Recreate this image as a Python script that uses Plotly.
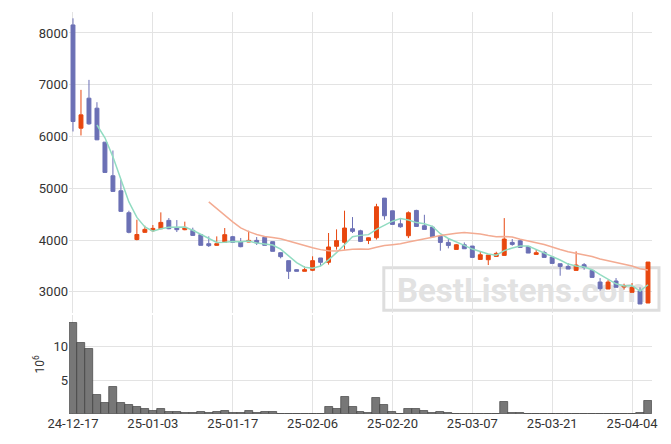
import pandas as pd
import plotly.graph_objects as go
from plotly.subplots import make_subplots

dates = ["24-12-17", "24-12-18", "24-12-19", "24-12-20", "24-12-23", "24-12-24", "24-12-26", "24-12-27",
         "24-12-30", "25-01-02", "25-01-03", "25-01-06", "25-01-07", "25-01-08", "25-01-09", "25-01-10",
         "25-01-13", "25-01-14", "25-01-15", "25-01-16", "25-01-17", "25-01-20", "25-01-21", "25-01-22",
         "25-01-23", "25-01-24", "25-01-31", "25-02-03", "25-02-04", "25-02-05", "25-02-06", "25-02-07",
         "25-02-10", "25-02-11", "25-02-12", "25-02-13", "25-02-14", "25-02-17", "25-02-18", "25-02-19",
         "25-02-20", "25-02-21", "25-02-24", "25-02-25", "25-02-26", "25-02-27", "25-02-28", "25-03-04",
         "25-03-05", "25-03-06", "25-03-07", "25-03-10", "25-03-11", "25-03-12", "25-03-13", "25-03-14",
         "25-03-17", "25-03-18", "25-03-19", "25-03-20", "25-03-21", "25-03-24", "25-03-25", "25-03-26",
         "25-03-27", "25-03-28", "25-03-31", "25-04-01", "25-04-02", "25-04-03", "25-04-04", "25-04-07",
         "25-04-08"]

open_ = [8155, 6161, 6740, 6547, 5891, 5242, 4952, 4528, 4010, 4149, 4181, 4219, 4380, 4232, 4200, 4187,
         4104, 3930, 3898, 3956, 4065, 3962, 3962, 3994, 4052, 3969, 3756, 3602, 3428, 3396, 3416, 3654,
         3570, 3879, 3956, 4219, 4179, 3993, 4044, 4810, 4565, 4314, 4083, 4572, 4276, 4250, 4070, 3954,
         3819, 3909, 3884, 3626, 3620, 3684, 3704, 3954, 3986, 3877, 3723, 3761, 3671, 3543, 3491, 3414,
         3524, 3414, 3189, 3054, 3209, 3093, 2990, 3022, 2784]
high = [8283, 6901, 7094, 6663, 5891, 5730, 5165, 4567, 4393, 4277, 4290, 4535, 4425, 4386, 4355, 4239,
        4104, 4071, 4071, 4232, 4080, 4040, 4180, 4058, 4052, 3969, 3763, 3602, 3435, 3493, 3686, 3654,
        4136, 4206, 4567, 4444, 4199, 4050, 4700, 4810, 4565, 4405, 4553, 4585, 4488, 4276, 4070, 4032,
        3925, 3954, 3884, 3774, 3710, 3774, 4424, 4019, 4006, 3877, 3813, 3794, 3671, 3543, 3556, 3781,
        3556, 3414, 3266, 3234, 3266, 3157, 3170, 3087, 3575]
low = [6097, 6020, 6226, 5930, 5306, 4930, 4545, 4130, 3995, 4140, 4155, 4210, 4210, 4155, 4190, 4080,
       3898, 3866, 3890, 3950, 3950, 3860, 3960, 3905, 3898, 3782, 3647, 3248, 3396, 3396, 3400, 3500,
       3525, 3815, 3815, 4136, 3961, 3922, 4010, 4392, 4302, 4237, 4038, 4263, 4205, 4051, 3794, 3839,
       3819, 3832, 3665, 3626, 3517, 3684, 3697, 3890, 3858, 3749, 3723, 3665, 3549, 3311, 3440, 3414,
       3427, 3279, 3022, 3054, 3087, 3042, 2990, 2765, 2784]
close = [6290, 6418, 6245, 5936, 5306, 4940, 4554, 4149, 4107, 4206, 4225, 4341, 4219, 4200, 4245, 4090,
         3898, 3892, 3930, 4104, 3956, 3872, 3994, 3943, 3898, 3782, 3679, 3396, 3396, 3428, 3602, 3570,
         3866, 3988, 4232, 4168, 3974, 4044, 4643, 4469, 4302, 4257, 4527, 4263, 4205, 4064, 3954, 3896,
         3909, 3832, 3665, 3716, 3710, 3742, 4019, 3916, 3858, 3749, 3755, 3665, 3549, 3491, 3440, 3517,
         3472, 3279, 3061, 3189, 3087, 3119, 3087, 2765, 3575]
volume = [13.5, 10.5, 9.6, 2.8, 1.7, 4.0, 1.6, 1.3, 1.1, 0.7, 0.5, 0.8, 0.35, 0.35, 0.15, 0.15,
          0.35, 0.2, 0.35, 0.5, 0.15, 0.15, 0.5, 0.15, 0.35, 0.35, 0.1, 0.1, 0.1, 0.1, 0.1, 0.1,
          1.0, 0.8, 2.5, 1.0, 0.35, 0.15, 2.4, 1.4, 0.35, 0.1, 0.8, 0.7, 0.5, 0.15, 0.35, 0.15,
          0.05, 0.05, 0.05, 0.1, 0.05, 0.05, 1.8, 0.15, 0.15, 0.05, 0.05, 0.05, 0.1, 0.05, 0.05, 0.1,
          0.05, 0.05, 0.05, 0.05, 0.05, 0.05, 0.05, 0.15, 2.0]

ma5 = pd.Series(close).rolling(4).mean()
ma20 = pd.Series(close).rolling(18).mean()

fig = make_subplots(rows=2, cols=1, shared_xaxes=True, row_heights=[0.752, 0.248], vertical_spacing=0.005)

fig.add_trace(go.Candlestick(
    x=dates, open=open_, high=high, low=low, close=close,
    increasing=dict(line=dict(color="#e8470f", width=1), fillcolor="#e8470f"),
    decreasing=dict(line=dict(color="#6b70b5", width=1), fillcolor="#6b70b5"),
    whiskerwidth=0, showlegend=False), row=1, col=1)
fig.add_trace(go.Scatter(x=dates, y=ma5, mode="lines", line=dict(color="#92dcc2", width=1.5),
                         showlegend=False), row=1, col=1)
fig.add_trace(go.Scatter(x=dates, y=ma20, mode="lines", line=dict(color="#f3ab92", width=1.5),
                         showlegend=False), row=1, col=1)
fig.add_trace(go.Bar(x=dates, y=volume, marker=dict(color="#777777", line=dict(color="#333333", width=0.6)),
                     showlegend=False), row=2, col=1)

grid = "#e3e3e3"
fig.update_xaxes(type="category", tickvals=dates[::10], showgrid=True, gridcolor=grid,
                 rangeslider_visible=False, showline=False, zeroline=False)
fig.update_xaxes(showticklabels=False, row=1, col=1)
fig.update_xaxes(showticklabels=True, ticks="", row=2, col=1)
fig.update_yaxes(range=[2595, 8405], tickvals=[3000, 4000, 5000, 6000, 7000, 8000],
                 gridcolor=grid, zeroline=False, row=1, col=1)
fig.update_yaxes(range=[0, 14.7], tickvals=[5, 10], gridcolor=grid, zeroline=False,
                 title=dict(text="10<sup>6</sup>", standoff=6, font=dict(size=12)), row=2, col=1)

# watermark behind the candles
fig.add_shape(type="rect", xref="paper", yref="paper", x0=0.54, x1=1.012, y0=0.258, y1=0.364,
              layer="below", line=dict(color="#dedede", width=3), fillcolor="rgba(0,0,0,0)",
              label=dict(text="BestListens.com", font=dict(size=33, color="#e2e2e2", weight="bold",
                                                          family="Roboto")))

fig.update_layout(width=655, height=428, margin=dict(l=61, r=11, t=4, b=22),
                  plot_bgcolor="white", paper_bgcolor="white", bargap=0,
                  font=dict(family="Roboto", size=13, color="#333333"))
fig.write_html("out.html")
